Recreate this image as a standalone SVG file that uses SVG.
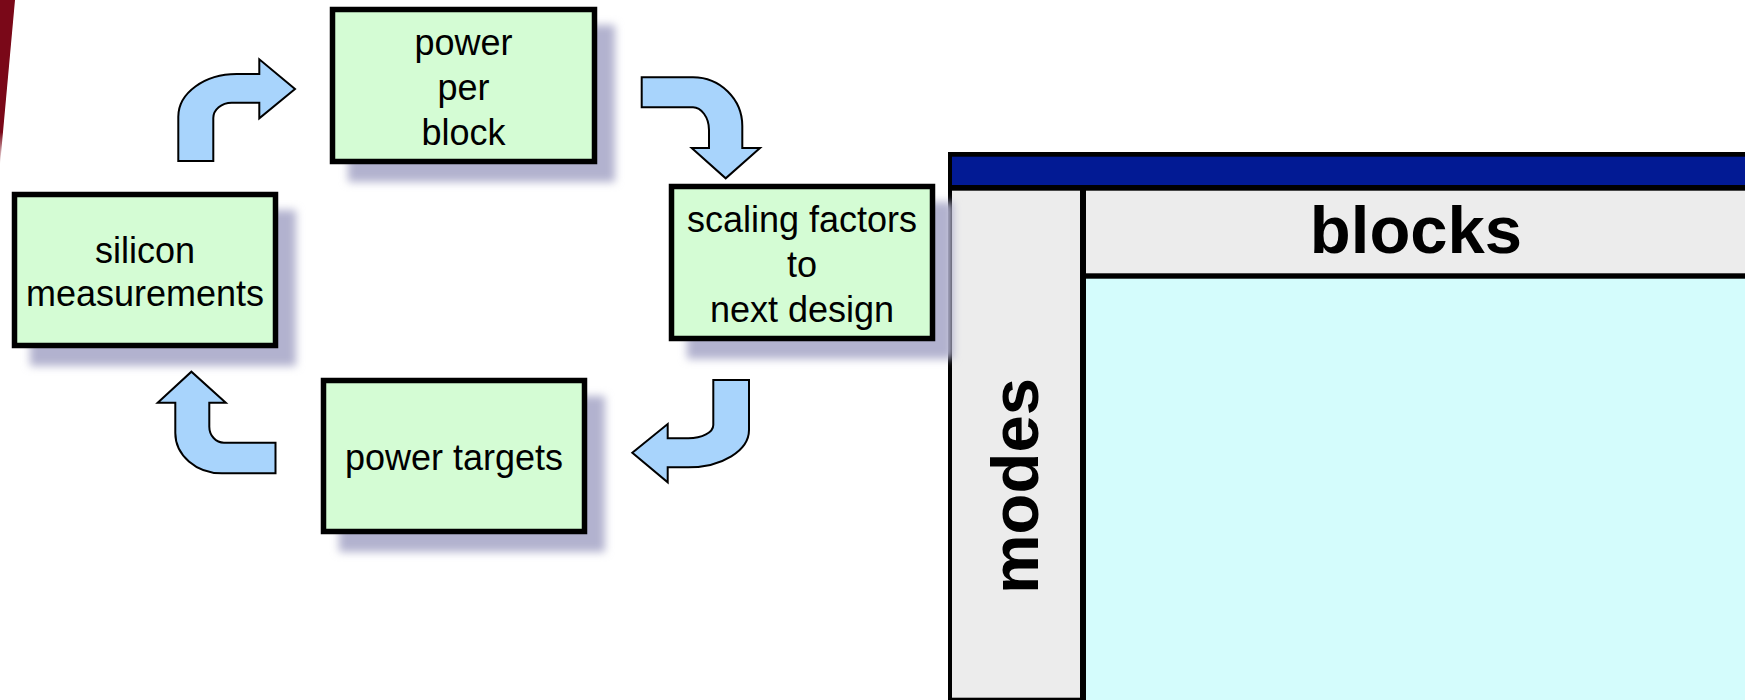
<svg xmlns="http://www.w3.org/2000/svg" width="1745" height="700" viewBox="0 0 1745 700">
<defs>
<style>
.box{fill:#d4fcd4;stroke:#000;stroke-width:5.5}
.shadow{fill:#b2b2cf;filter:url(#blur)}
.lbl{font-family:"Liberation Sans",Arial,sans-serif;font-size:36px;fill:#000;text-anchor:middle}
.big{font-family:"Liberation Sans",Arial,sans-serif;font-size:67px;font-weight:bold;fill:#000;text-anchor:middle}
.arrow{fill:#a8d4fc;stroke:#000;stroke-width:2;stroke-linejoin:miter}
</style>
<filter id="blur" x="-20%" y="-20%" width="140%" height="140%"><feGaussianBlur stdDeviation="4"/></filter>
<linearGradient id="redfade" x1="0" y1="0" x2="0" y2="1">
<stop offset="0" stop-color="#7a0818"/>
<stop offset="0.8" stop-color="#7a0818"/>
<stop offset="1" stop-color="#7a0818" stop-opacity="0"/>
</linearGradient>
</defs>
<rect width="1745" height="700" fill="#fff"/>
<polygon points="0,0 15,0 0,165" fill="url(#redfade)"/>

<g id="table">
<rect x="948" y="152" width="800" height="548" fill="#000"/>
<rect x="952" y="156.7" width="800" height="28.3" fill="#021a94"/>
<rect x="952" y="190.7" width="128" height="507" fill="#ececec"/>
<rect x="1086" y="190.7" width="660" height="82.6" fill="#ececec"/>
<rect x="1086" y="278.7" width="660" height="422" fill="#d4fcfc"/>
<text class="big" x="1416" y="253">blocks</text>
<text class="big" transform="translate(1038,486) rotate(-90)">modes</text>
</g>

<g id="node-power-per-block">
<rect class="shadow" x="348" y="25" width="267" height="157"/>
<rect class="box" x="332.5" y="9.5" width="262" height="152"/>
<text class="lbl" x="463.5" y="55">power</text>
<text class="lbl" x="463.5" y="100">per</text>
<text class="lbl" x="463.5" y="145">block</text>
</g>

<g id="node-silicon-measurements">
<rect class="shadow" x="30" y="210" width="266" height="156"/>
<rect class="box" x="14.5" y="194.5" width="261" height="151"/>
<text class="lbl" x="145" y="263">silicon</text>
<text class="lbl" x="145" y="306">measurements</text>
</g>

<g id="node-scaling-factors">
<rect class="shadow" x="687" y="202" width="266" height="157"/>
<rect class="box" x="671.5" y="186.5" width="261" height="152"/>
<text class="lbl" x="802" y="231.7">scaling factors</text>
<text class="lbl" x="802" y="276.7">to</text>
<text class="lbl" x="802" y="321.7">next design</text>
</g>

<g id="node-power-targets">
<rect class="shadow" x="339" y="396" width="266" height="156"/>
<rect class="box" x="323.5" y="380.5" width="261" height="151"/>
<text class="lbl" x="454" y="470">power targets</text>
</g>

<g id="connectors">
<path class="arrow" d="M178.3,161 L178.3,116.7 C178.3,93 204.5,74 236.7,74 L259.3,74 L259.3,59.3 L295,89 L259.3,118.3 L259.3,102.7 L231.7,102.7 C221.5,102.7 213.3,109.6 213.3,118 L213.3,161 Z"/>
<path class="arrow" d="M641.7,77.3 L693,77.3 C720,77.3 742.3,99 742.3,126 L742.3,148 L760,148 L725.7,178.3 L691.7,148 L709,148 L709,130 C709,117 701,107.3 693,107.3 L641.7,107.3 Z"/>
<path class="arrow" d="M713.3,380 L749,380 L749,430 C749,450.5 722,467.3 688.3,467.3 L667.7,467.3 L667.7,482.3 L632.3,452.7 L667.7,424 L667.7,438.3 L688.3,438.3 C702,438.3 713.3,432.4 713.3,425 Z"/>
<path class="arrow" d="M275.5,442.7 L275.5,473.3 L222,473.3 C196,473.3 175.3,455 175.3,433 L175.3,402.7 L157.7,402.7 L191.4,371.7 L225.8,402.7 L209.3,402.7 L209.3,426.7 C209.3,435.5 215.9,442.7 224,442.7 Z"/>
</g>
</svg>
